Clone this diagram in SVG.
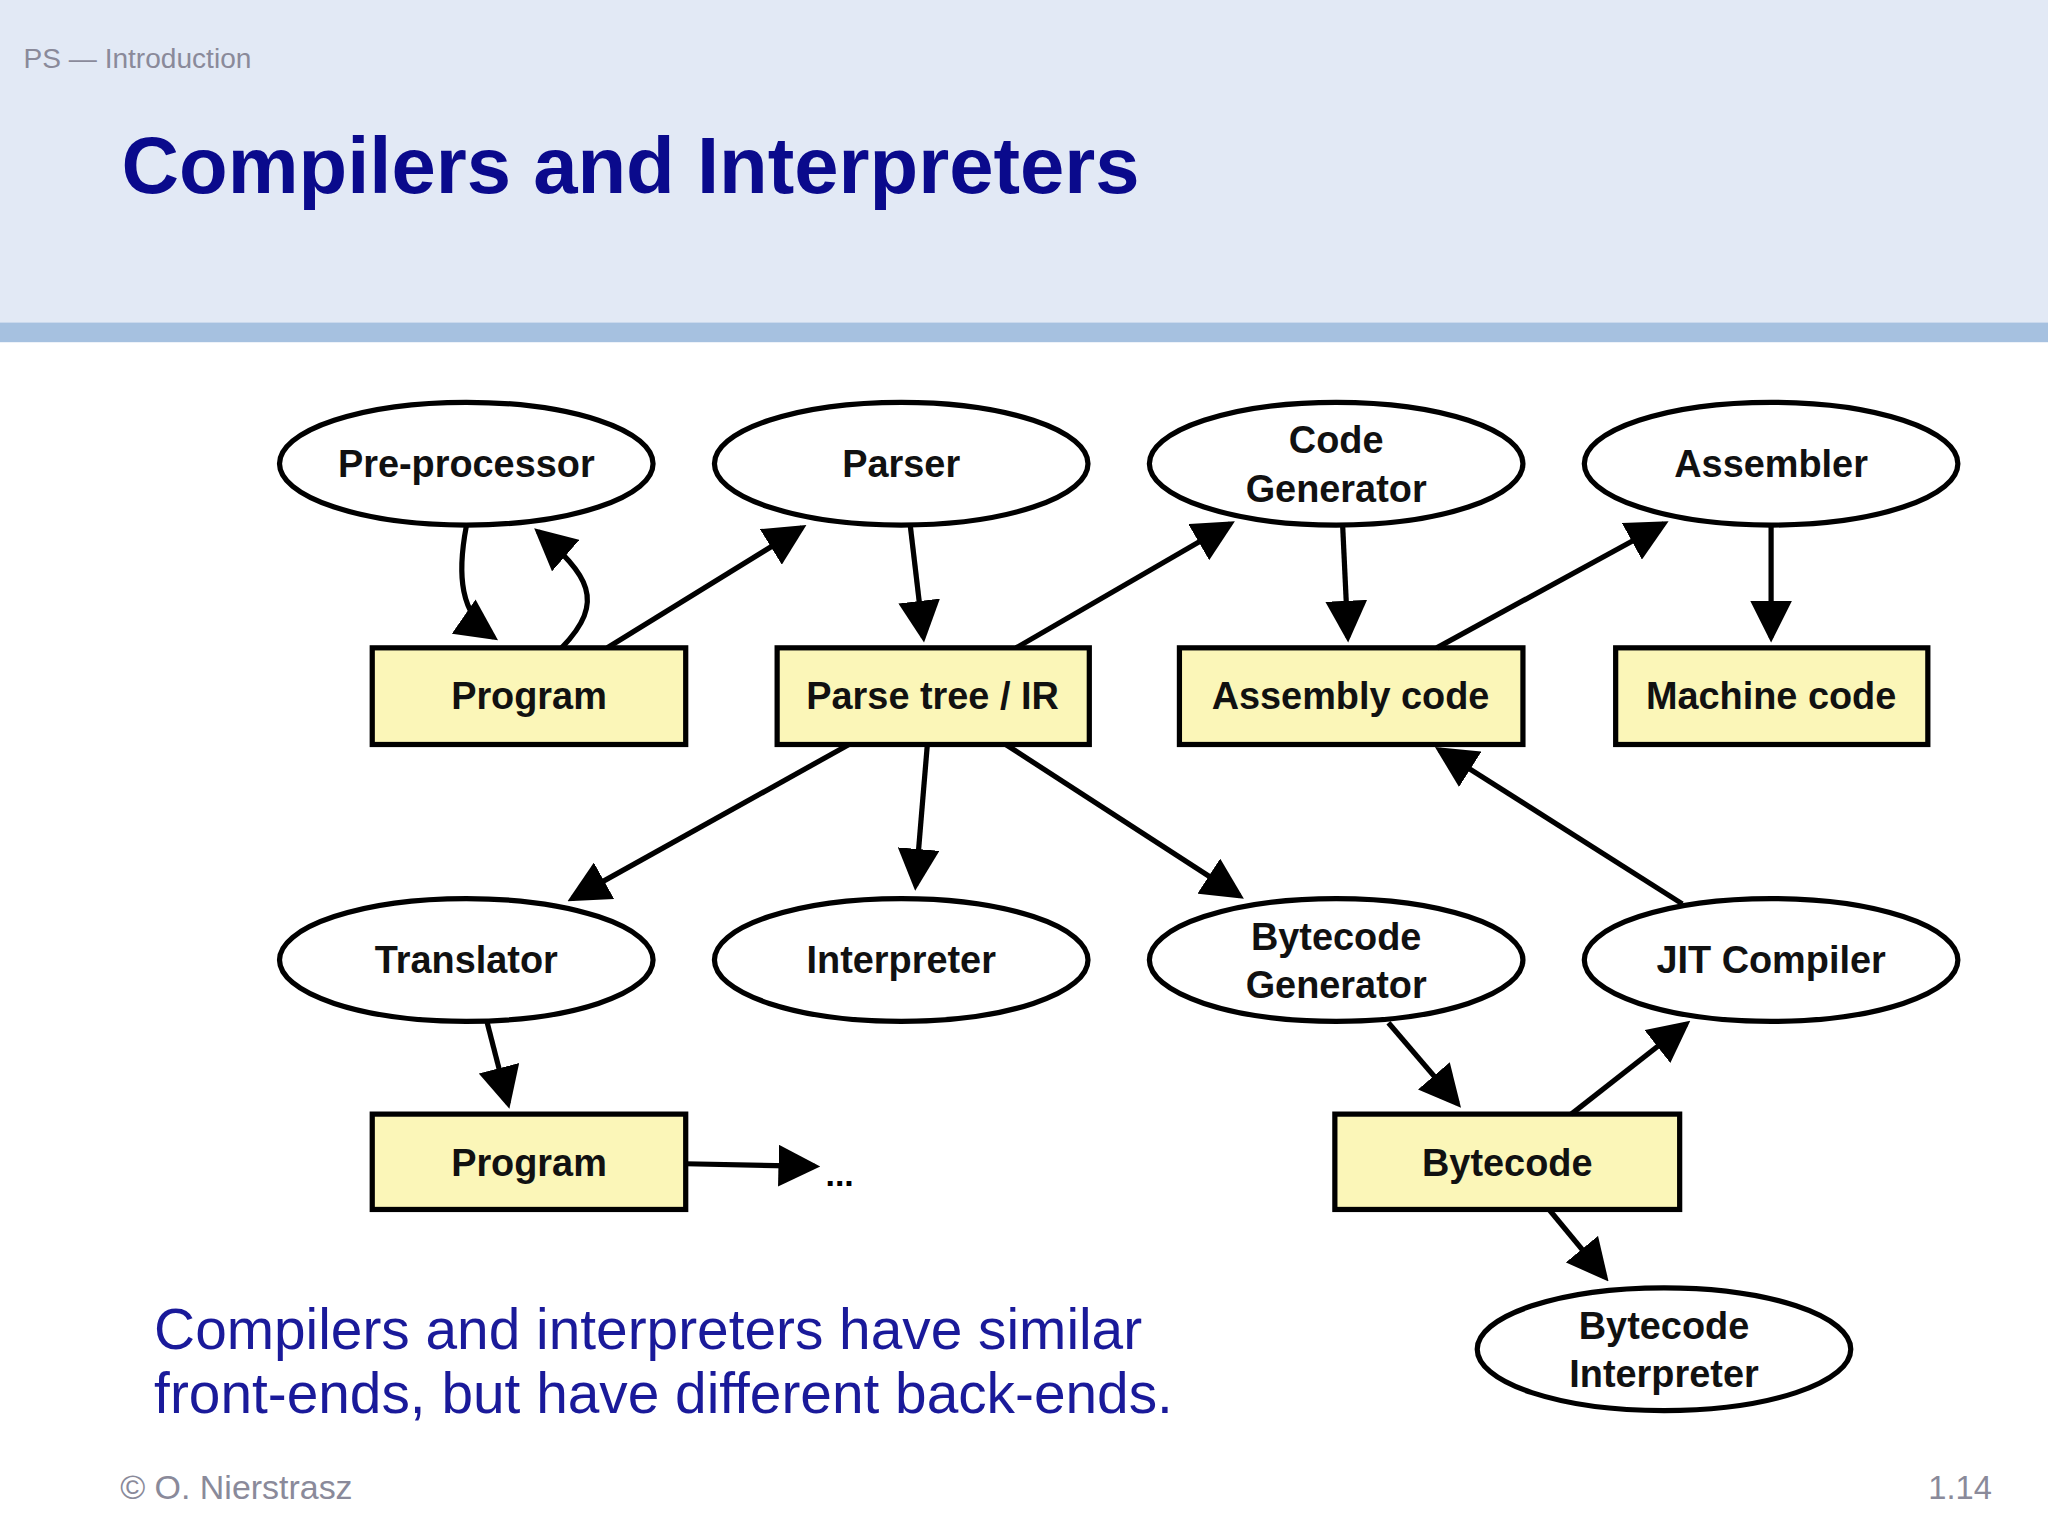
<svg xmlns="http://www.w3.org/2000/svg" width="2048" height="1536" viewBox="0 0 2048 1536">
<style>
.e{fill:#fff;stroke:#000;stroke-width:4}
.b{fill:#fbf6b8;stroke:#000;stroke-width:4}
.t{font-family:"Liberation Sans",Arial,sans-serif;font-weight:bold;font-size:29px;text-anchor:middle;fill:#111}
.c path{fill:none;stroke:#000;stroke-width:4;marker-end:url(#ah)}
</style>
<defs><marker id="ah" markerWidth="8" markerHeight="8" refX="7" refY="4" orient="auto" markerUnits="strokeWidth"><path d="M0,0 L8,4 L0,8 z" fill="#000"/></marker></defs>
<rect width="2048" height="1536" fill="#fff"/>
<g transform="scale(1.30612)">
<rect x="0" y="0" width="1568" height="248" fill="#e2e9f5"/>
<rect x="0" y="247" width="1568" height="15" fill="#a6c1e0"/>
<text x="18" y="52" font-family="Liberation Sans,Arial,sans-serif" font-size="21.5" fill="#8a8a9a">PS — Introduction</text>
<text x="93" y="148" font-family="Liberation Sans,Arial,sans-serif" font-size="61" font-weight="bold" fill="#0a0a8c">Compilers and Interpreters</text>
<g id="preproc"><ellipse class="e" cx="357" cy="355" rx="143" ry="47"/><text class="t" x="357" y="365">Pre-processor</text></g>
<g id="parser"><ellipse class="e" cx="690" cy="355" rx="143" ry="47"/><text class="t" x="690" y="365">Parser</text></g>
<g id="codegen"><ellipse class="e" cx="1023" cy="355" rx="143" ry="47"/><text class="t" x="1023" y="347">Code</text><text class="t" x="1023" y="384">Generator</text></g>
<g id="assembler"><ellipse class="e" cx="1356" cy="355" rx="143" ry="47"/><text class="t" x="1356" y="365">Assembler</text></g>
<g id="program1"><rect class="b" x="285" y="496" width="240" height="74"/><text class="t" x="405" y="543">Program</text></g>
<g id="parsetree"><rect class="b" x="595" y="496" width="239" height="74"/><text class="t" x="714" y="543">Parse tree / IR</text></g>
<g id="assembly"><rect class="b" x="903" y="496" width="263" height="74"/><text class="t" x="1034" y="543">Assembly code</text></g>
<g id="machine"><rect class="b" x="1237" y="496" width="239" height="74"/><text class="t" x="1356" y="543">Machine code</text></g>
<g id="translator"><ellipse class="e" cx="357" cy="735" rx="143" ry="47"/><text class="t" x="357" y="745">Translator</text></g>
<g id="interpreter"><ellipse class="e" cx="690" cy="735" rx="143" ry="47"/><text class="t" x="690" y="745">Interpreter</text></g>
<g id="bcgen"><ellipse class="e" cx="1023" cy="735" rx="143" ry="47"/><text class="t" x="1023" y="727">Bytecode</text><text class="t" x="1023" y="764">Generator</text></g>
<g id="jit"><ellipse class="e" cx="1356" cy="735" rx="143" ry="47"/><text class="t" x="1356" y="745">JIT Compiler</text></g>
<g id="program2"><rect class="b" x="285" y="853" width="240" height="73"/><text class="t" x="405" y="900">Program</text></g>
<g id="bytecode"><rect class="b" x="1022" y="853" width="264" height="73"/><text class="t" x="1154" y="900">Bytecode</text></g>
<g id="bcinterp"><ellipse class="e" cx="1274" cy="1033" rx="143" ry="47"/><text class="t" x="1274" y="1025">Bytecode</text><text class="t" x="1274" y="1062">Interpreter</text></g>
<g id="connectors" class="c">
<path d="M357,403 C350,440 352,470 378,488"/>
<path d="M430,496 C465,460 450,440 412,407"/>
<path d="M465,496 L614,404"/>
<path d="M697,403 L707,488"/>
<path d="M778,496 L942,401"/>
<path d="M1028,403 L1032,488"/>
<path d="M1100,496 L1274,401"/>
<path d="M1356,403 L1356,488"/>
<path d="M650,570 L438,688"/>
<path d="M710,570 L701,678"/>
<path d="M770,570 L949,686"/>
<path d="M1288,692 L1102,574"/>
<path d="M373,783 L389,845"/>
<path d="M525,891 L624,893"/>
<path d="M1063,783 L1116,845"/>
<path d="M1203,853 L1291,784"/>
<path d="M1186,926 L1229,978"/>
</g>
<text x="632" y="908" font-family="Liberation Sans,Arial,sans-serif" font-size="26" font-weight="bold">...</text>
<text font-family="Liberation Sans,Arial,sans-serif" font-size="43.5" fill="#1a1a9a"><tspan x="118" y="1033">Compilers and interpreters have similar</tspan><tspan x="118" y="1082">front-ends, but have different back-ends.</tspan></text>
<text x="92" y="1148" font-family="Liberation Sans,Arial,sans-serif" font-size="26" fill="#8a8a9a">© O. Nierstrasz</text>
<text x="1525" y="1148" text-anchor="end" font-family="Liberation Sans,Arial,sans-serif" font-size="25" fill="#8a8a9a">1.14</text>
</g>
</svg>
